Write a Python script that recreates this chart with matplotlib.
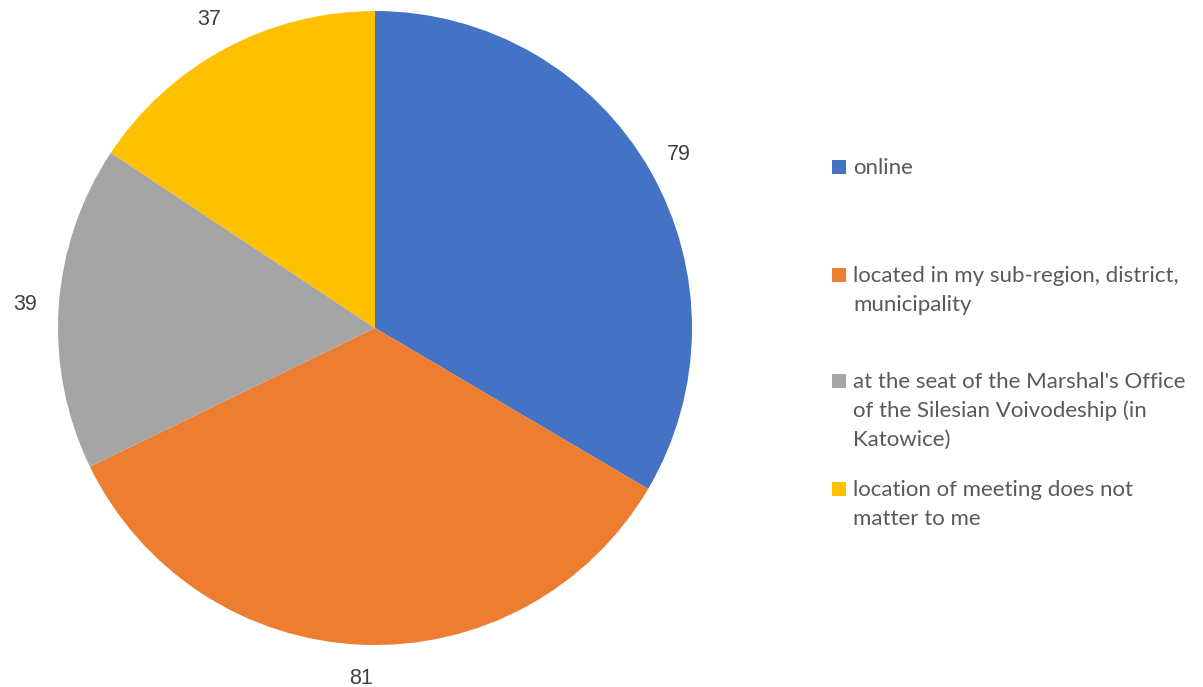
import matplotlib
matplotlib.use("Agg")
import matplotlib.pyplot as plt
from matplotlib.patches import Rectangle

categories = ["online",
              "located in my sub-region, district,\nmunicipality",
              "at the seat of the Marshal's Office\nof the Silesian Voivodeship (in\nKatowice)",
              "location of meeting does not\nmatter to me"]
values = [79, 81, 39, 37]
colors = ["#4472C4", "#ED7D31", "#A5A5A5", "#FFC000"]

W, H = 1203, 687
fig = plt.figure(figsize=(W/100, H/100), dpi=100)
cx, cy, r = 375, 328, 317
ax = fig.add_axes([(cx-r)/W, (H-cy-r)/H, 2*r/W, 2*r/H])
wedges, texts = ax.pie(values, colors=colors, startangle=90, counterclock=False,
                       radius=1, labels=[str(v) for v in values], labeldistance=1.105,
                       wedgeprops=dict(linewidth=0))
for t in texts:
    t.set_ha("center"); t.set_va("center")
    t.set_fontsize(15.5); t.set_color("#404040"); t.set_family("Liberation Sans")
ax.set_xlim(-1, 1); ax.set_ylim(-1, 1)
ax.set_aspect("equal")
ax.axis("off")

baselines = [174, 282, 388, 496]
for lab, col, b in zip(categories, colors, baselines):
    fig.patches.append(Rectangle((832/W, (H-b)/H), 14/W, 14/H, transform=fig.transFigure,
                                 facecolor=col, edgecolor="none"))
    for i, line in enumerate(lab.split("\n")):
        fig.text(853/W, (H-b-29*i)/H, line, ha="left", va="baseline", fontsize=16,
                 family="Lato", color="#595959")

fig.savefig("out.png", dpi=100)
